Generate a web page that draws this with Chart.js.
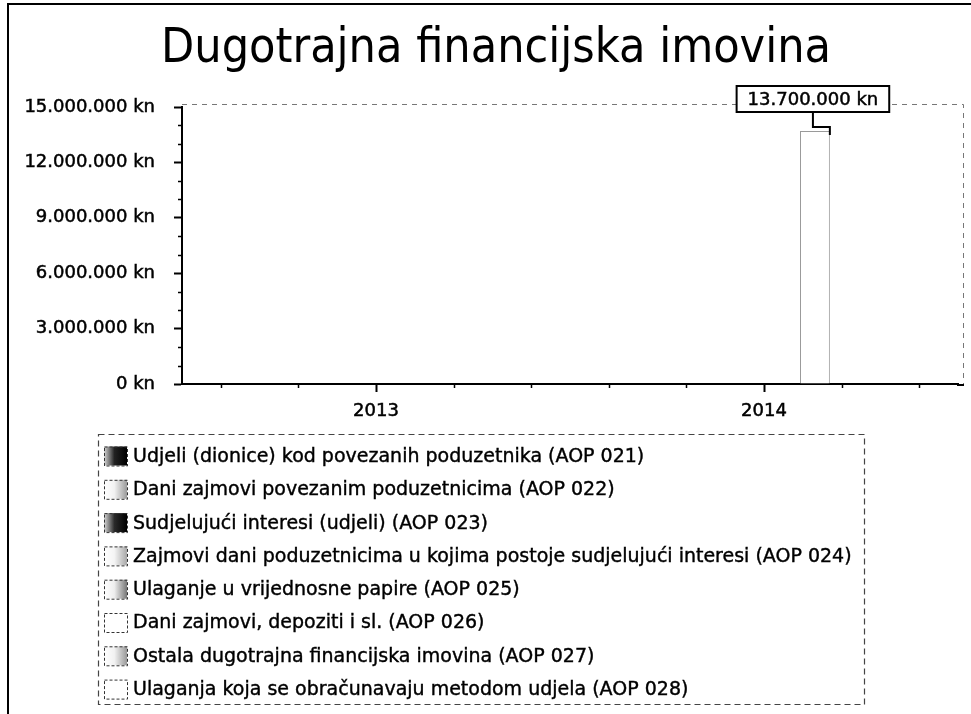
<!DOCTYPE html>
<html>
<head>
<meta charset="utf-8">
<script src="https://cdn.jsdelivr.net/npm/chart.js@4.4.1/dist/chart.umd.min.js"></script>
<style>
  html, body { margin: 0; padding: 0; background: #fff; }
  #wrap { width: 971px; height: 714px; position: relative; }
</style>
</head>
<body>
<div id="wrap"><canvas id="c" width="971" height="714"></canvas></div>
<script>
const chartTitle = 'Dugotrajna financijska imovina';
const categories = ['2013', '2014'];
const seriesLabels = [
  'Udjeli (dionice) kod povezanih poduzetnika (AOP 021)',
  'Dani zajmovi povezanim poduzetnicima (AOP 022)',
  'Sudjelujući interesi (udjeli) (AOP 023)',
  'Zajmovi dani poduzetnicima u kojima postoje sudjelujući interesi (AOP 024)',
  'Ulaganje u vrijednosne papire (AOP 025)',
  'Dani zajmovi, depoziti i sl. (AOP 026)',
  'Ostala dugotrajna financijska imovina (AOP 027)',
  'Ulaganja koja se obračunavaju metodom udjela (AOP 028)'
];
const aop021 = [0, 0];
const aop022 = [0, 0];
const aop023 = [0, 0];
const aop024 = [0, 0];
const aop025 = [0, 0];
const aop026 = [0, 13700000];
const aop027 = [0, 0];
const aop028 = [0, 0];
const seriesValues = [aop021, aop022, aop023, aop024, aop025, aop026, aop027, aop028];
const yTickValues = [0, 3000000, 6000000, 9000000, 12000000, 15000000];

const isDark = [true, false, true, false, false, false, false, false];
const swatchMid = ['#222', '#f2f2f2', '#2a2a2a', '#f4f4f4', '#eeeeee', '#ffffff', '#f2f2f2', '#ffffff'];
const swatchEdge = ['#000', '#9a9a9a', '#000', '#a8a8a8', '#777', '#ffffff', '#999', '#ffffff'];

const FONT_C = "'DejaVu Sans Condensed', 'DejaVu Sans', sans-serif";
const FONT_N = "'DejaVu Sans', sans-serif";

function fmtKn(v) {
  const s = Math.round(v).toString().replace(/\B(?=(\d{3})+(?!\d))/g, '.');
  return s + ' kn';
}

const framePlugin = {
  id: 'frame',
  beforeDraw(chart) {
    const ctx = chart.ctx;
    ctx.save();
    ctx.fillStyle = '#fff';
    ctx.fillRect(0, 0, chart.width, chart.height);
    ctx.strokeStyle = '#000';
    ctx.lineWidth = 2;
    ctx.beginPath();
    ctx.moveTo(8, 714); ctx.lineTo(8, 4); ctx.lineTo(971, 4);
    ctx.stroke();
    ctx.fillStyle = '#000';
    ctx.font = "48px " + FONT_C;
    ctx.textAlign = 'center';
    ctx.textBaseline = 'alphabetic';
    ctx.fillText(chartTitle, 496, 62);
    ctx.restore();
  },
  beforeDatasetsDraw(chart) {
    const a = chart.chartArea, ctx = chart.ctx;
    const rightEdge = a.right + 6;
    ctx.save();
    ctx.strokeStyle = '#777';
    ctx.lineWidth = 1;
    ctx.setLineDash([5, 5]);
    ctx.beginPath();
    ctx.moveTo(a.left, a.top - 2.5); ctx.lineTo(rightEdge - 0.5, a.top - 2.5); ctx.lineTo(rightEdge - 0.5, a.bottom);
    ctx.stroke();
    ctx.setLineDash([]);
    ctx.strokeStyle = '#000';
    ctx.lineWidth = 2;
    ctx.beginPath();
    ctx.moveTo(a.right - 1, a.bottom + 1); ctx.lineTo(rightEdge, a.bottom + 1);
    ctx.stroke();
    ctx.lineWidth = 1.5;
    const ys = chart.scales.y, xs = chart.scales.x;
    ctx.beginPath();
    for (let v = 1000000; v < 15000000; v += 1000000) {
      if (v % 3000000 === 0) continue;
      const py = Math.round(ys.getPixelForValue(v)) + 0.5;
      ctx.moveTo(a.left - 4, py); ctx.lineTo(a.left, py);
    }
    for (let i = 0; i < categories.length; i++) {
      for (const f of [-0.4, -0.2, 0.2, 0.4]) {
        const px = Math.round(xs.getPixelForValue(i + f)) + 0.5;
        ctx.moveTo(px, a.bottom); ctx.lineTo(px, a.bottom + 4);
      }
    }
    ctx.stroke();
    ctx.restore();
  },
  afterDatasetsDraw(chart) {
    const ctx = chart.ctx;
    ctx.save();
    ctx.font = "18px " + FONT_N;
    ctx.textAlign = 'center';
    ctx.textBaseline = 'middle';
    chart.data.datasets.forEach((ds, di) => {
      const meta = chart.getDatasetMeta(di);
      meta.data.forEach((bar, i) => {
        const v = ds.data[i];
        if (!v) return;
        const txt = fmtKn(v);
        const w = ctx.measureText(txt).width + 22;
        const h = 26;
        const cx = bar.x - 2;
        const by = bar.y - 19;
        ctx.strokeStyle = '#000';
        ctx.lineWidth = 2;
        ctx.fillStyle = '#fff';
        ctx.fillRect(cx - w / 2, by - h, w, h);
        ctx.strokeRect(cx - w / 2, by - h, w, h);
        ctx.beginPath();
        ctx.moveTo(cx, by); ctx.lineTo(cx, bar.y - 4);
        ctx.lineTo(bar.x + bar.width / 2, bar.y - 4);
        ctx.lineTo(bar.x + bar.width / 2, bar.y + 4);
        ctx.stroke();
        ctx.fillStyle = '#000';
        ctx.lineWidth = 0.5;
        ctx.fillText(txt, cx, by - h / 2 + 1);
        ctx.strokeText(txt, cx, by - h / 2 + 1);
      });
    });
    ctx.restore();
  },
  afterDraw(chart) {
    const ctx = chart.ctx;
    ctx.save();
    const L = 98, T = 434, R = 864, B = 704;
    ctx.strokeStyle = '#444';
    ctx.lineWidth = 1.2;
    ctx.setLineDash([6, 4]);
    ctx.strokeRect(L + 0.5, T + 0.5, R - L, B - T);
    ctx.setLineDash([]);
    ctx.font = "19px " + FONT_N;
    ctx.textBaseline = 'middle';
    ctx.textAlign = 'left';
    chart.data.datasets.forEach((ds, i) => {
      const cy = 456 + i * 33.3;
      const sx = 104, sw = 23, sh = 19;
      const g = ctx.createLinearGradient(sx, 0, sx + sw, 0);
      g.addColorStop(0, isDark[i] ? '#d8d8d8' : '#ffffff');
      g.addColorStop(0.45, swatchMid[i]);
      g.addColorStop(1, swatchEdge[i]);
      ctx.fillStyle = g;
      ctx.fillRect(sx, cy - sh / 2, sw, sh);
      ctx.strokeStyle = '#333';
      ctx.lineWidth = 1;
      ctx.setLineDash([3, 2]);
      ctx.strokeRect(sx + 0.5, cy - sh / 2 + 0.5, sw, sh);
      ctx.setLineDash([]);
      ctx.fillStyle = '#000';
      ctx.strokeStyle = '#000';
      ctx.lineWidth = 0.4;
      ctx.fillText(ds.label, 133, cy + 1);
      ctx.strokeText(ds.label, 133, cy + 1);
    });
    ctx.restore();
  }
};

const datasets = seriesLabels.map((lab, i) => ({
  label: lab,
  data: seriesValues[i],
  backgroundColor: isDark[i] ? '#333' : '#ffffff',
  borderColor: '#9a9a9a',
  borderWidth: 1,
  categoryPercentage: 0.70,
  barPercentage: 0.88
}));

new Chart(document.getElementById('c'), {
  type: 'bar',
  data: { labels: categories, datasets },
  options: {
    responsive: false,
    animation: false,
    devicePixelRatio: 1,
    layout: { padding: { left: 8, right: 13, top: 107, bottom: 290 } },
    plugins: {
      legend: { display: false },
      tooltip: { enabled: false },
      title: { display: false }
    },
    scales: {
      x: {
        afterFit(s) { s.height = 40; },
        grid: { offset: false, drawOnChartArea: false, drawTicks: true, tickLength: 8, tickWidth: 2, tickColor: '#000' },
        border: { display: true, color: '#000', width: 2 },
        ticks: { color: '#000', font: { family: FONT_N, size: 18 }, padding: 9, textStrokeColor: '#000', textStrokeWidth: 0.5 }
      },
      y: {
        min: 0, max: 15000000,
        afterFit(s) { s.width = 174; },
        afterBuildTicks(s) { s.ticks = yTickValues.map(v => ({ value: v })); },
        grid: { drawOnChartArea: false, drawTicks: true, tickLength: 8, tickWidth: 2, tickColor: '#000' },
        border: { display: true, color: '#000', width: 2 },
        ticks: { color: '#000', font: { family: FONT_N, size: 18 }, padding: 19, textStrokeColor: '#000', textStrokeWidth: 0.5, callback: v => fmtKn(v) }
      }
    }
  },
  plugins: [framePlugin]
});
</script>
</body>
</html>
